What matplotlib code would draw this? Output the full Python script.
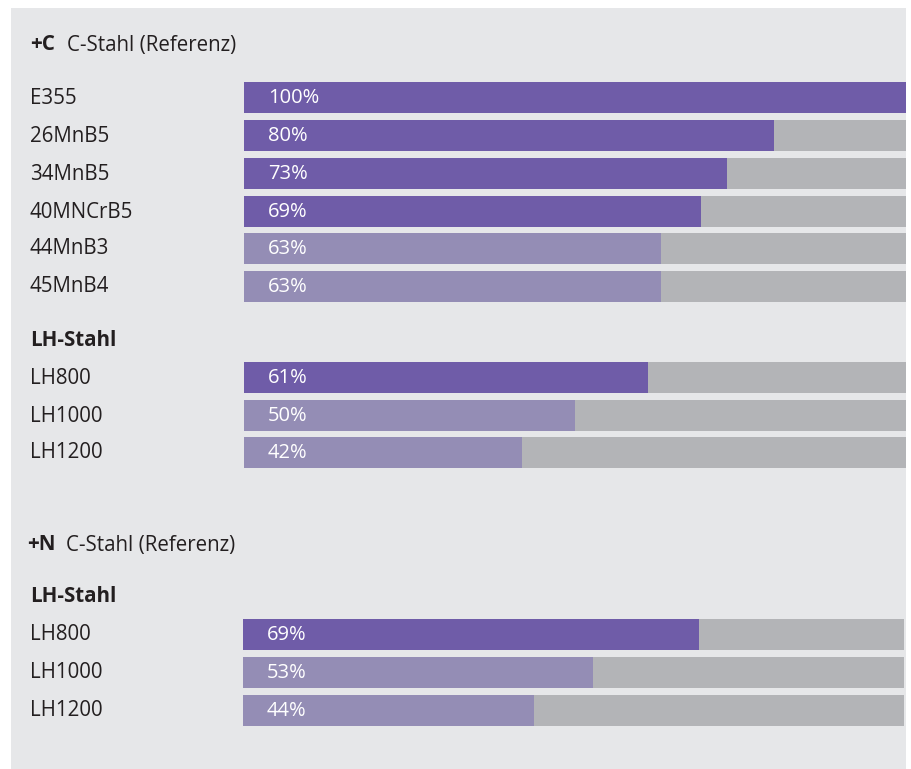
import matplotlib.pyplot as plt
from matplotlib.patches import Rectangle

# data
c_labels = ["E355", "26MnB5", "34MnB5", "40MNCrB5", "44MnB3", "45MnB4"]
c_values = [100, 80, 73, 69, 63, 63]
c_dark = [True, True, True, True, False, False]

lhc_labels = ["LH800", "LH1000", "LH1200"]
lhc_values = [61, 50, 42]
lhc_dark = [True, False, False]

lhn_labels = ["LH800", "LH1000", "LH1200"]
lhn_values = [69, 53, 44]
lhn_dark = [True, False, False]

DARK = "#6f5ca8"
LIGHT = "#948db5"
REST = "#b3b4b7"
PANEL = "#e6e7e9"
TXT = "#231f20"
FONT = "Open Sans"
FS = 14.8

W, H = 911, 769
fig = plt.figure(figsize=(W / 100, H / 100), dpi=100)
fig.patch.set_facecolor("white")

# gray panel in pixel coords
bg = fig.add_axes([0, 0, 1, 1])
bg.set_xlim(0, W)
bg.set_ylim(H, 0)
bg.axis("off")
bg.add_patch(Rectangle((11, 8), 895, H - 8, color=PANEL, lw=0))


def px_axes(x0, x1):
    ax = fig.add_axes([x0 / W, 0, (x1 - x0) / W, 1])
    ax.set_xlim(0, 100)
    ax.set_ylim(H, 0)
    ax.axis("off")
    return ax


def draw_rows(ax, labels, values, dark, y_tops, xlabel):
    for lab, v, d, yt in zip(labels, values, dark, y_tops):
        ax.barh(yt + 15.5, 100, height=31, color=REST, lw=0)
        ax.barh(yt + 15.5, v, height=31, color=DARK if d else LIGHT, lw=0)
        ax.text(3.6, yt + 16, f"{v}%", color="white", fontsize=14.5,
                family=FONT, va="center", ha="left")
        bg.text(xlabel, yt + 16, lab, color=TXT, fontsize=FS, family=FONT,
                va="center", ha="left")


ax1 = px_axes(244, 906)
draw_rows(ax1, c_labels, c_values, c_dark,
          [82, 120, 158, 196, 233, 271], 30)
draw_rows(ax1, lhc_labels, lhc_values, lhc_dark, [362, 400, 437], 30)

ax2 = px_axes(243, 904)
draw_rows(ax2, lhn_labels, lhn_values, lhn_dark, [619, 657, 695], 30)

# headers
bg.text(30, 45, "+C", color=TXT, fontsize=FS, family=FONT,
        weight="bold", va="center")
bg.text(67, 45, "C-Stahl (Referenz)", color=TXT, fontsize=FS,
        family=FONT, va="center")
bg.text(30, 340, "LH-Stahl", color=TXT, fontsize=FS, family=FONT,
        weight="bold", va="center")
bg.text(27, 545, "+N", color=TXT, fontsize=FS, family=FONT,
        weight="bold", va="center")
bg.text(66, 545, "C-Stahl (Referenz)", color=TXT, fontsize=FS,
        family=FONT, va="center")
bg.text(30, 597, "LH-Stahl", color=TXT, fontsize=FS, family=FONT,
        weight="bold", va="center")

fig.savefig("out.png", dpi=100)
